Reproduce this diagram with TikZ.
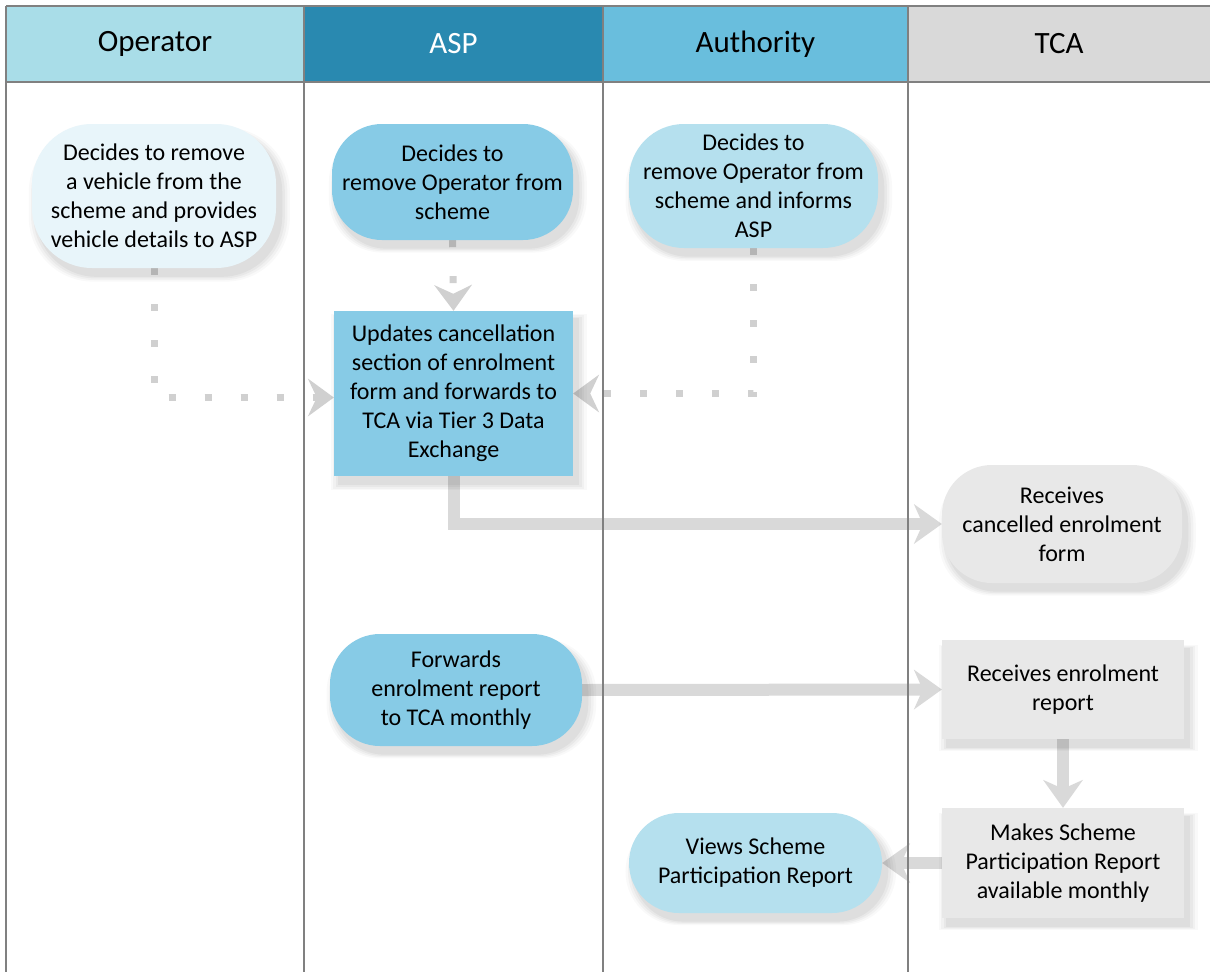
\documentclass[tikz,border=0pt]{standalone}
\usepackage{fontspec}
\setmainfont{Carlito}
\usetikzlibrary{arrows.meta,shadows}
\definecolor{hOp}{HTML}{A9DDE8}
\definecolor{hAsp}{HTML}{2989B0}
\definecolor{hAuth}{HTML}{69BEDD}
\definecolor{hTca}{HTML}{D9D9D9}
\definecolor{laneLine}{HTML}{808080}
\definecolor{opFill}{HTML}{E8F5FA}
\definecolor{aspFill}{HTML}{87CBE6}
\definecolor{authFill}{HTML}{B5E0EE}
\definecolor{tcaFill}{HTML}{E8E8E8}
\definecolor{connGray}{HTML}{D9D9D9}
\definecolor{dotGray}{HTML}{D0D0D0}
\pgfdeclarelayer{bg}
\pgfdeclarelayer{conn}
\pgfsetlayers{bg,conn,main}
\tikzset{
  lane/.style={draw=laneLine, line width=1.4pt},
  hdr/.style={font=\fontsize{31}{37}\selectfont, inner sep=0pt, text=black},
  softshadow/.style={
    general shadow={fill=black, opacity=0.025, shadow xshift=5pt, shadow yshift=-8pt, shadow scale=1.07},
    general shadow={fill=black, opacity=0.03, shadow xshift=5pt, shadow yshift=-8pt, shadow scale=1.05},
    general shadow={fill=black, opacity=0.035, shadow xshift=5pt, shadow yshift=-8pt, shadow scale=1.03},
    general shadow={fill=black, opacity=0.04, shadow xshift=5pt, shadow yshift=-8pt, shadow scale=1.01}},
  base/.style={align=center, font=\fontsize{24}{29}\selectfont, inner sep=0pt, text=black, softshadow},
  rnd/.style={base, rounded corners=50pt},
  sqbox/.style={base},
  dotc/.style={draw=dotGray, line width=7pt, dash pattern=on 7pt off 29pt,
    -{Stealth[length=26pt,width=38pt,inset=9pt,line width=0pt]}},
  solidc/.style={draw=connGray, line width=12pt, line join=miter,
    -{Stealth[length=28pt,width=40pt,inset=9pt,line width=0pt]}}
}
\begin{document}
\begin{tikzpicture}[x=1pt,y=-1pt]
\useasboundingbox (0,0) rectangle (1210,972);
\begin{pgfonlayer}{bg}
\fill[white] (0,0) rectangle (1210,972);
\end{pgfonlayer}
% header cells
\fill[hOp] (6,6) rectangle (304,82);
\fill[hAsp] (304,6) rectangle (603,82);
\fill[hAuth] (603,6) rectangle (908,82);
\fill[hTca] (908,6) rectangle (1210,82);
\node[hdr] (hop) at (155,44) {Operator};
\node[hdr, text=white] (hasp) at (453.5,44) {ASP};
\node[hdr] (hauth) at (755.5,44) {Authority};
\node[hdr] (htca) at (1059,44) {TCA};
% lanes
\draw[lane] (6,6) -- (1210,6);
\draw[lane] (6,82) -- (1210,82);
\draw[lane] (6,6) -- (6,972);
\draw[lane] (304,6) -- (304,972);
\draw[lane] (603,6) -- (603,972);
\draw[lane] (908,6) -- (908,972);
% nodes
\node[rnd, rounded corners=60pt, fill=opFill, minimum width=244pt, minimum height=144pt] (op) at (154,196)
  {Decides to remove\\a vehicle from the\\scheme and provides\\vehicle details to ASP};
\node[rnd, fill=aspFill, minimum width=241pt, minimum height=116pt] (asp1) at (452.5,182)
  {Decides to\\remove Operator from\\scheme};
\node[rnd, rounded corners=55pt, fill=authFill, minimum width=249pt, minimum height=124pt] (auth1) at (753.5,186)
  {Decides to\\remove Operator from\\scheme and informs\\ASP};
\node[sqbox, fill=aspFill, minimum width=239pt, minimum height=165pt] (asp2) at (453.5,393.5)
  {Updates cancellation\\section of enrolment\\form and forwards to\\TCA via Tier 3 Data\\Exchange};
\node[rnd, fill=tcaFill, minimum width=240pt, minimum height=118pt] (rec1) at (1062,524)
  {Receives\\cancelled enrolment\\form};
\node[rnd, fill=aspFill, minimum width=252pt, minimum height=112pt] (asp3) at (456,690)
  {Forwards\\enrolment report\\to TCA monthly};
\node[sqbox, fill=tcaFill, minimum width=242pt, minimum height=99pt] (rec2) at (1063,689.5)
  {Receives enrolment\\report};
\node[sqbox, fill=tcaFill, minimum width=242pt, minimum height=110pt] (make) at (1063,863)
  {Makes Scheme\\Participation Report\\available monthly};
\node[rnd, fill=authFill, minimum width=253pt, minimum height=100pt] (views) at (755.5,863)
  {Views Scheme\\Participation Report};
% connectors
\begin{pgfonlayer}{conn}
\draw[dotc] (op.south) |- ([yshift=-4pt]asp2.west);
\draw[dotc] (asp1.south) -- (asp2.north);
\draw[dotc] (auth1.south) |- (asp2.east);
\draw[solidc] (asp2.south) |- (rec1.west);
\draw[solidc] (asp3.east) -- (rec2.west);
\draw[solidc] (rec2.south) -- (make.north);
\draw[solidc] (make.west) -- (views.east);
\end{pgfonlayer}
\end{tikzpicture}
\end{document}
